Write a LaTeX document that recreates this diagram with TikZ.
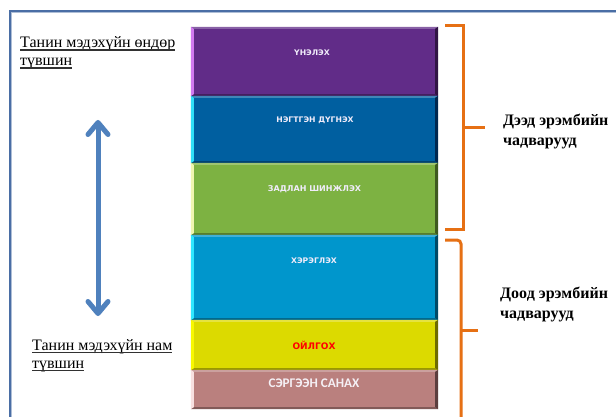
\documentclass[tikz,border=0pt]{standalone}
\usepackage{fontspec}
\setmainfont{Liberation Serif}
\newfontfamily\blkfont{DejaVu Sans}
\newfontfamily\calfont{Carlito}
\usetikzlibrary{arrows.meta}
\definecolor{framec}{RGB}{74,110,165}
\definecolor{orangec}{RGB}{230,112,20}
\definecolor{arrowc}{RGB}{79,129,189}
\definecolor{ulc}{RGB}{50,50,50}
\definecolor{cpur}{RGB}{97,44,136}
\definecolor{cpurL}{RGB}{210,122,240}
\definecolor{cpurD}{RGB}{48,21,68}
\definecolor{cdb}{RGB}{0,95,160}
\definecolor{cdbL}{RGB}{48,224,248}
\definecolor{cdbD}{RGB}{0,40,80}
\definecolor{cgr}{RGB}{125,178,66}
\definecolor{cgrL}{RGB}{240,245,176}
\definecolor{cgrD}{RGB}{62,90,32}
\definecolor{clb}{RGB}{0,150,204}
\definecolor{clbL}{RGB}{48,232,255}
\definecolor{clbD}{RGB}{0,74,102}
\definecolor{cye}{RGB}{220,218,0}
\definecolor{cyeL}{RGB}{248,248,0}
\definecolor{cyeD}{RGB}{110,108,0}
\definecolor{cpk}{RGB}{186,128,126}
\definecolor{cpkL}{RGB}{248,224,224}
\definecolor{cpkD}{RGB}{92,62,62}
\newcommand\thul[1]{\setbox0=\hbox{#1}\rlap{\usebox0}\raisebox{-2.8pt}{\color{ulc}\rule{\wd0}{1.3pt}}}
\newcommand\bevelbox[4]{%
 \fill[#2!75!white] (#1.north west) -- (#1.north east) -- ([shift={(-3,2)}]#1.north east) -- ([shift={(3,2)}]#1.north west) -- cycle;
 \fill[#2!70!black] (#1.south west) -- (#1.south east) -- ([shift={(-3,-2)}]#1.south east) -- ([shift={(3,-2)}]#1.south west) -- cycle;
 \fill[#3] (#1.north west) -- ([shift={(3,2)}]#1.north west) -- ([shift={(3,-2)}]#1.south west) -- (#1.south west) -- cycle;
 \fill[#4] (#1.north east) -- ([shift={(-3,2)}]#1.north east) -- ([shift={(-3,-2)}]#1.south east) -- (#1.south east) -- cycle;
}
\tikzset{
 blk/.style={rectangle, minimum width=247pt, inner sep=0pt, draw=none},
 blktxt/.style={text={rgb,255:red,240;green,236;blue,250}, font=\blkfont\bfseries\fontsize{7.7}{9}\selectfont, inner sep=0pt},
 sidetxt/.style={anchor=base west, inner sep=0pt, font=\fontsize{16}{19}\selectfont},
 bracket/.style={draw=orangec, line width=3pt},
}
\begin{document}
\begin{tikzpicture}[x=1pt,y=-1pt]
\useasboundingbox (0,0) rectangle (616,417);
\fill[white] (0,0) rectangle (616,417);
% frame
\coordinate (fTR) at (616,11);
\coordinate (fTL) at (10,11);
\coordinate (fBL) at (10,417);
\draw[framec, line width=2.5pt] (fTR) -- (fTL) -- (fBL);
\draw[framec!45!white, line width=0.8pt] ([shift={(0,1.5)}]fTR) -- ([shift={(1.5,1.5)}]fTL) -- ([shift={(1.5,0)}]fBL);
% blocks
\node[blk, fill=cpur, minimum height=69pt] (b1) at (314.5,61.5) {};
\node[blk, fill=cdb, minimum height=67pt] (b2) at (314.5,129.5) {};
\node[blk, fill=cgr, minimum height=72pt] (b3) at (314.5,199) {};
\node[blk, fill=clb, minimum height=85pt] (b4) at (314.5,277.5) {};
\node[blk, fill=cye, minimum height=50pt] (b5) at (314.5,345) {};
\node[blk, fill=cpk, minimum height=39pt] (b6) at (314.5,389.5) {};
\bevelbox{b1}{cpur}{cpurL}{cpurD}
\bevelbox{b2}{cdb}{cdbL}{cdbD}
\bevelbox{b3}{cgr}{cgrL}{cgrD}
\bevelbox{b4}{clb}{clbL}{clbD}
\bevelbox{b5}{cye}{cyeL}{cyeD}
\bevelbox{b6}{cpk}{cpkL}{cpkD}
\node[blktxt] (t1) at (312,53) {ҮНЭЛЭХ};
\node[blktxt] (t2) at (315,120) {НЭГТГЭН ДҮГНЭХ};
\node[blktxt, font=\blkfont\bfseries\fontsize{8}{10}\selectfont] (t3) at (314.5,189) {ЗАДЛАН ШИНЖЛЭХ};
\node[blktxt] (t4) at (314,261) {ХЭРЭГЛЭХ};
\node[blktxt, text={rgb,255:red,255;green,0;blue,0}, font=\blkfont\bfseries\fontsize{9}{11}\selectfont] (t5) at (314,345) {ОЙЛГОХ};
\node[blktxt, text={rgb,255:red,245;green,240;blue,245}, font=\calfont\bfseries\fontsize{13.2}{15}\selectfont] (t6) at (314,383) {СЭРГЭЭН САНАХ};
% left labels
\node[sidetxt] (l1a) at (20,48) {\thul{Танин мэдэхүйн өндөр}};
\node[sidetxt] (l1b) at (20,66) {\thul{түвшин}};
\node[sidetxt] (l2a) at (32,350) {\thul{Танин мэдэхүйн нам}};
\node[sidetxt] (l2b) at (32,368) {\thul{түвшин}};
% double arrow
\coordinate (aT) at (98,120);
\coordinate (aB) at (98,316);
\draw[arrowc, line width=5pt, {Straight Barb[length=12pt,width=20pt,round]}-{Straight Barb[length=12pt,width=20pt,round]}] (aT) -- (aB);
% upper bracket
\coordinate (u1) at (445,26);
\coordinate (u2) at (463,26);
\coordinate (u3) at (463,229);
\coordinate (u4) at (445,229);
\coordinate (um) at (463,128);
\coordinate (ut) at (485,128);
\draw[bracket] (u1) -- (u2) -- (u3) -- (u4);
\draw[bracket] (um) -- (ut);
% lower bracket
\coordinate (d1) at (445,240);
\coordinate (d2) at (461,240);
\coordinate (d3) at (461,417);
\coordinate (dm) at (461,330);
\coordinate (dt) at (478,330);
\draw[bracket, rounded corners=4pt] (d1) -- (d2) -- (d3);
\draw[bracket] (dm) -- (dt);
% right labels
\node[sidetxt, font=\bfseries\fontsize{16}{19}\selectfont] (r1a) at (503,126) {Дээд эрэмбийн};
\node[sidetxt, font=\bfseries\fontsize{16}{19}\selectfont] (r1b) at (503,146) {чадварууд};
\node[sidetxt, font=\bfseries\fontsize{16}{19}\selectfont] (r2a) at (500,298) {Доод эрэмбийн};
\node[sidetxt, font=\bfseries\fontsize{16}{19}\selectfont] (r2b) at (500,318) {чадварууд};
\end{tikzpicture}
\end{document}
